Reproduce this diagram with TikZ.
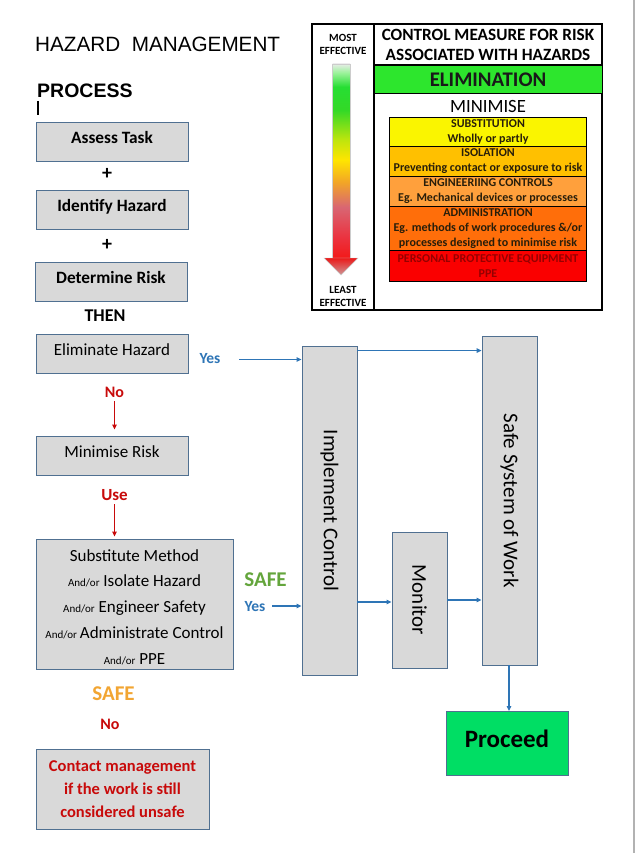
\documentclass[tikz,border=0pt]{standalone}
\usepackage{fontspec}
\setmainfont{Carlito}
\newfontfamily\arialf{Liberation Sans}
\usetikzlibrary{arrows.meta}
\definecolor{boxgray}{RGB}{217,217,217}
\definecolor{boxline}{RGB}{80,112,145}
\definecolor{ablue}{RGB}{46,117,182}
\definecolor{ared}{RGB}{200,10,10}
\definecolor{sgreen}{RGB}{100,165,60}
\definecolor{sorange}{RGB}{242,165,50}
\definecolor{pgreen}{RGB}{0,222,100}
\definecolor{egreen}{RGB}{45,230,45}
\definecolor{cyellow}{RGB}{250,245,0}
\definecolor{camber}{RGB}{255,192,0}
\definecolor{corange}{RGB}{255,160,60}
\definecolor{cdorange}{RGB}{255,110,10}
\definecolor{cred}{RGB}{250,0,0}
\definecolor{ppetext}{RGB}{150,0,0}
\definecolor{rowtext}{RGB}{40,30,10}
\newcommand\fsz[2]{\fontsize{#1}{#2}\selectfont}
\pgfdeclareverticalshading{arrowshade}{100bp}{rgb(0bp)=(0.95,0.1,0.1); rgb(25bp)=(0.95,0.1,0.1); rgb(30.4bp)=(0.92,0.2,0.25); rgb(38.1bp)=(0.85,0.4,0.45); rgb(44.6bp)=(0.95,0.65,0.15); rgb(50.3bp)=(1,0.9,0); rgb(55.4bp)=(0.75,0.9,0.05); rgb(63.1bp)=(0.2,0.85,0.15); rgb(69.1bp)=(0.15,0.87,0.2); rgb(72.7bp)=(0.6,0.95,0.6); rgb(75bp)=(0.9,0.93,0.9); rgb(100bp)=(0.9,0.93,0.9)}
\begin{document}
\begin{tikzpicture}[x=1pt,y=-1pt,
  box/.style={draw=boxline, fill=boxgray, line width=0.9pt, inner sep=0pt, minimum width=152pt, minimum height=39pt},
  bbox/.style={box, font=\fsz{17.3}{20}\bfseries, text height=12pt, text depth=8pt},
  rbox/.style={box, font=\fsz{17}{20}, text height=12pt, text depth=8pt},
  vbox/.style={box, minimum width=55pt, minimum height=329pt},
  vlab/.style={rotate=-90, font=\fsz{21}{24}},
  lbl/.style={inner sep=0pt},
  barrow/.style={draw=ablue, line width=1.2pt, -{Triangle[length=5pt,width=4.5pt]}},
  rarrow/.style={draw=ared, line width=1.2pt, -{Triangle[length=5pt,width=4.5pt]}},
  row/.style={draw=black, line width=0.6pt, inner sep=0pt, minimum width=197.4pt, align=center, text=rowtext, font=\fsz{12}{15}\bfseries},
  hdr/.style={lbl, font=\fsz{11}{13}\bfseries, align=center}
]
\useasboundingbox (0,0) rectangle (635,853);
\fill[white] (0,0) rectangle (635,853);
\draw[gray!60, line width=1.5pt] (633.8,0) -- (633.8,853);

% title
\node[lbl, anchor=west, font=\arialf\fsz{20.7}{24}] (title) at (35,44) {HAZARD\ \ MANAGEMENT};
\node[lbl, anchor=west, font=\arialf\fsz{19.5}{24}\bfseries] (proc) at (37,91) {PROCESS};
\draw[line width=1.6pt] (37.8,101) -- (37.8,115);

% left column
\node[bbox] (at) at (112,141.5) {Assess Task};
\node[lbl, font=\fsz{20}{20}\bfseries] (p1) at (107,174) {+};
\node[bbox] (ih) at (112,209.5) {Identify Hazard};
\node[lbl, font=\fsz{20}{20}\bfseries] (p2) at (107,245) {+};
\node[bbox] (dr) at (111,281.5) {Determine Risk};
\node[lbl, font=\fsz{18}{20}\bfseries] (then) at (105,316) {THEN};
\node[rbox] (eh) at (112,353.5) {Eliminate Hazard};
\node[lbl, text=ablue, font=\fsz{15.5}{18}\bfseries] (yes1) at (210,359) {Yes};
\node[lbl, text=ared, font=\fsz{16}{18}\bfseries] (no1) at (114.5,392.5) {No};
\node[rbox] (mr) at (112,455.5) {Minimise Risk};
\node[lbl, text=ared, font=\fsz{17}{18}\bfseries] (use) at (114.5,495.5) {Use};
\node[box, minimum width=197pt, minimum height=130pt] (sub) at (134.5,604) {};
\node[lbl, align=center, font=\fsz{17}{25.8}] (subt) at (134.5,607) {Substitute Method\\
  {\fsz{11}{12}And/or} Isolate Hazard\\
  {\fsz{11}{12}And/or} Engineer Safety\\
  {\fsz{11}{12}And/or}\,Administrate Control\\
  {\fsz{11}{12}And/or} PPE};
\node[lbl, text=sgreen, font=\fsz{21}{24}\bfseries] (safe1) at (265.5,579.5) {SAFE};
\node[lbl, text=ablue, font=\fsz{15.5}{18}\bfseries] (yes2) at (255,607) {Yes};
\node[lbl, text=sorange, font=\fsz{21}{24}\bfseries] (safe2) at (113.5,694) {SAFE};
\node[lbl, text=ared, font=\fsz{16}{18}\bfseries] (no2) at (110,724) {No};
\node[box, minimum width=173pt, minimum height=80pt, align=center, text=ared, font=\fsz{16.5}{23}\bfseries] (cm) at (122.5,789) {Contact management\\if the work is still\\considered unsafe};

% right flow
\node[vbox, label={[vlab]center:Implement Control}] (ic) at (329.5,510.5) {};
\node[vbox, label={[vlab]center:Safe System of Work}] (ssw) at (509.5,500.5) {};
\node[vbox, minimum height=136pt, label={[vlab]center:Monitor}] (mon) at (419.5,600) {};
\node[draw=boxline, fill=pgreen, line width=0.9pt, minimum width=122pt, minimum height=64pt, inner sep=0pt, font=\fsz{25}{28}\bfseries, text height=17pt, text depth=9pt] (pro) at (507,743) {Proceed};

\coordinate (c1) at (239,359.5);
\coordinate (c2) at (272,606);
\coordinate (c3) at (0,602);
\draw[barrow] (c1) -- (c1 -| ic.west);
\draw[barrow] (c2) -- (c2 -| ic.west);
\draw[rarrow] (no1.south) ++(0,3) -- ([yshift=6pt]mr.north -| no1.south);
\draw[rarrow] (use.south) ++(0,3) -- ([yshift=2pt]sub.north -| use.south);
\draw[barrow] ([yshift=-5pt]ic.north east) -- ([yshift=-5pt]ic.north east -| ssw.west);
\draw[barrow] (ic.east |- c3) -- (mon.west |- c3);
\draw[barrow] (mon.east) -- (mon.east -| ssw.west);
\draw[barrow] (ssw.south -| 509,0) -- (509,711);

% control measure panel
\draw[line width=1.3pt] (312,24) rectangle (602,310);
\draw[line width=1.1pt] (374,24) -- (374,310);
\draw[line width=1.1pt] (374,65) -- (602,65);
\node[draw=black, line width=1pt, fill=egreen, minimum width=228pt, minimum height=27.5pt, inner sep=0pt, text=black!90, font=\fsz{20.8}{24}\bfseries] (elim) at (488,79.5) {ELIMINATION};
\node[lbl, align=center, font=\fsz{17.2}{20.5}\bfseries] (cmhead) at (488,45) {CONTROL MEASURE FOR RISK\\ASSOCIATED WITH HAZARDS};
\node[lbl, font=\fsz{18.7}{20}] (mini) at (488,106) {MINIMISE};
\node[row, fill=cyellow, minimum height=29.4pt] (r1) at (488,132) {SUBSTITUTION\\Wholly or partly};
\node[row, fill=camber, minimum height=29.6pt] (r2) at (488,161.5) {ISOLATION\\Preventing contact or exposure to risk};
\node[row, fill=corange, minimum height=30pt] (r3) at (488,191.3) {ENGINEERIING CONTROLS\\Eg. Mechanical devices or processes};
\node[row, fill=cdorange, minimum height=43.7pt] (r4) at (488,228.2) {ADMINISTRATION\\Eg. methods of work procedures \&/or\\processes designed to minimise risk};
\node[row, fill=cred, minimum height=31.7pt, text=ppetext] (r5) at (488,265.8) {PERSONAL PROTECTIVE EQUIPMENT\\PPE};

\node[hdr] (most) at (343,44.5) {MOST\\EFFECTIVE};
\node[hdr] (least) at (343,296) {LEAST\\EFFECTIVE};
\shade[shading=arrowshade, draw=gray!40, line width=0.4pt] (332.5,64) rectangle (350,258);
\shade[top color={rgb,255:red,235;green,25;blue,25}, bottom color={rgb,255:red,205;green,150;blue,150}, draw=gray!40, line width=0.4pt] (324,258) -- (358,258) -- (341,275) -- cycle;
\end{tikzpicture}
\end{document}
